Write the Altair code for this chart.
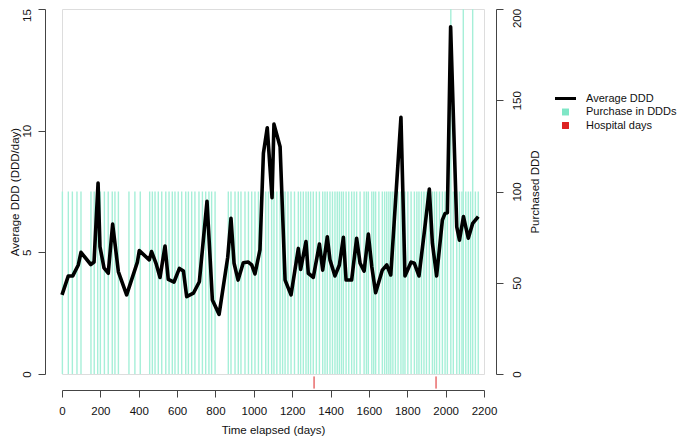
import altair as alt
import pandas as pd

# ---- data ----
line_days = [0, 33, 56, 85, 99, 150, 167, 188, 198, 219, 241, 264, 294, 337, 393, 403,
             455, 467, 490, 511, 537, 554, 584, 612, 633, 650, 685, 716, 756, 784, 819,
             864, 881, 897, 918, 945, 971, 989, 1006, 1032, 1050, 1070, 1095, 1105, 1137,
             1163, 1194, 1232, 1244, 1272, 1284, 1310, 1342, 1359, 1383, 1397, 1423, 1446,
             1467, 1481, 1510, 1536, 1554, 1575, 1597, 1615, 1635, 1670, 1693, 1714, 1767,
             1788, 1820, 1837, 1861, 1887, 1915, 1931, 1953, 1983, 1997, 2009, 2026, 2058,
             2072, 2093, 2118, 2141, 2170]
line_avg = [3.25, 4.03, 4.03, 4.48, 5.0, 4.5, 4.6, 7.85, 5.23, 4.36, 4.14, 6.16, 4.2, 3.25,
            4.6, 5.07, 4.69, 5.03, 4.55, 3.97, 5.26, 3.89, 3.78, 4.34, 4.23, 3.18, 3.32,
            3.79, 7.1, 3.04, 2.45, 4.8, 6.4, 4.55, 3.86, 4.57, 4.6, 4.48, 4.11, 5.1, 9.07,
            10.12, 7.25, 10.27, 9.34, 3.86, 3.25, 5.16, 4.3, 5.44, 4.14, 3.97, 5.34, 4.27,
            5.64, 4.69, 4.03, 4.48, 5.62, 3.86, 3.86, 5.58, 4.55, 4.23, 5.75, 4.41, 3.34,
            4.27, 4.48, 4.07, 10.55, 4.03, 4.6, 4.55, 4.03, 5.71, 7.6, 5.37, 4.03, 6.33,
            6.6, 6.63, 14.27, 6.05, 5.5, 6.47, 5.58, 6.19, 6.47]

purchase_days = [2, 33, 54, 78, 99, 151, 168, 186, 200, 221, 241, 262, 276, 294, 349, 380,
                 408, 457, 471, 485, 502, 520, 541, 558, 575, 589, 606, 624, 645, 659, 676,
                 693, 714, 732, 749, 766, 780, 798, 867, 881, 902, 919, 933, 954, 972, 989,
                 1006, 1024, 1041, 1062, 1076, 1093, 1105, 1120, 1137, 1150, 1163, 1178,
                 1194, 1212, 1232, 1244, 1258, 1272, 1284, 1296, 1310, 1326, 1342, 1359,
                 1371, 1383, 1397, 1410, 1423, 1435, 1446, 1457, 1467, 1481, 1495, 1510,
                 1523, 1536, 1554, 1575, 1587, 1597, 1615, 1625, 1635, 1652, 1670, 1682,
                 1693, 1704, 1714, 1725, 1738, 1752, 1767, 1778, 1788, 1803, 1820, 1837,
                 1850, 1861, 1874, 1887, 1900, 1915, 1931, 1942, 1953, 1968, 1983, 1997,
                 2009, 2027, 2040, 2058, 2072, 2085, 2092, 2105, 2118, 2130, 2141, 2155, 2170]
purchase_ddd = [100, 100, 100, 100, 100, 100, 100, 100, 100, 100,
                100, 100, 100, 100, 100, 100, 100, 100, 100, 100,
                100, 100, 100, 100, 100, 100, 100, 100, 100, 100,
                100, 100, 100, 100, 100, 100, 100, 100, 100, 100,
                100, 100, 100, 100, 100, 100, 100, 100, 100, 100,
                100, 100, 100, 100, 100, 100, 100, 100, 100, 100,
                100, 100, 100, 100, 100, 100, 100, 100, 100, 100,
                100, 100, 100, 100, 100, 100, 100, 100, 100, 100,
                100, 100, 100, 100, 100, 100, 100, 100, 100, 100,
                100, 100, 100, 100, 100, 100, 100, 100, 100, 100,
                100, 100, 100, 100, 100, 100, 100, 100, 100, 100,
                100, 100, 100, 100, 100, 100, 100, 100, 100, 200,
                100, 100, 100, 100, 200, 100, 100, 100, 200, 100, 100]

hospital_days = [1314, 1950]

legend_names = ["Average DDD", "Purchase in DDDs", "Hospital days"]
x_ticks = [0, 200, 400, 600, 800, 1000, 1200, 1400, 1600, 1800, 2000, 2200]
left_ticks = [0, 5, 10, 15]
right_ticks = [0, 50, 100, 150, 200]

# ---- styling ----
FONT = "Liberation Sans"
TEAL = "#a6efd8"
TEAL_LEG = "#7fe6c6"
RED = "#dd2222"
AXIS_COL = "#444444"
TXT = "#111111"
FS = 11.5

line_df = pd.DataFrame({"day": line_days, "avg": line_avg})
purch_df = pd.DataFrame({"day": purchase_days, "ddd": purchase_ddd})
hosp_df = pd.DataFrame({"day": hospital_days})
leg_df = pd.DataFrame({"series": legend_names})

common_axis = dict(grid=False, labelFont=FONT, titleFont=FONT, labelFontSize=FS,
                   titleFontSize=FS, titleFontWeight="normal", labelColor=TXT,
                   titleColor=TXT, domainColor=AXIS_COL, tickColor=AXIS_COL,
                   tickSize=7, labelOverlap=False, labelFlush=False)

xscale = alt.Scale(domain=[0, 2200], nice=False, zero=False)
xaxis = alt.Axis(values=x_ticks, title="Time elapsed (days)", offset=16, format="d",
                 labelPadding=8, titlePadding=8, **common_axis)
left_scale = alt.Scale(domain=[0, 15], nice=False)
right_scale = alt.Scale(domain=[0, 200], nice=False)
left_axis = alt.Axis(orient="left", values=left_ticks, title="Average DDD (DDD/day)",
                     offset=17, labelAngle=-90, labelAlign="center",
                     labelBaseline="bottom", labelPadding=6, titlePadding=1,
                     labelOffset={"condition": {"test": "datum.value == 15", "value": 6},
                                  "value": 0},
                     **common_axis)
right_axis = alt.Axis(orient="right", values=right_ticks, title="Purchased DDD",
                      offset=12, labelAngle=-90, labelAlign="center",
                      labelBaseline="top", labelPadding=8, titleAngle=-90,
                      titleBaseline="top", titlePadding=7,
                      labelOffset={"condition": {"test": "datum.value == 200", "value": 9},
                                   "value": 0},
                      **common_axis)

bars = alt.Chart(purch_df).mark_rule(color=TEAL, strokeWidth=1.4).encode(
    x=alt.X("day:Q", scale=xscale, axis=xaxis),
    y=alt.Y("ddd:Q", scale=right_scale, axis=right_axis),
    y2=alt.Y2(datum=0),
)

line = alt.Chart(line_df).mark_line(color="black", strokeWidth=3.6,
                                    strokeJoin="round").encode(
    x=alt.X("day:Q", scale=xscale, axis=xaxis),
    y=alt.Y("avg:Q", scale=left_scale, axis=left_axis),
)

hosp = alt.Chart(hosp_df).mark_rule(color=RED, strokeWidth=1).encode(
    x=alt.X("day:Q", scale=xscale, axis=xaxis),
    y=alt.Y(datum=-0.1, scale=left_scale, axis=left_axis),
    y2=alt.Y2(datum=-0.6),
)

leg = alt.Legend(orient="none", legendX=497, legendY=83, title=None,
                 symbolSize=144, symbolStrokeColor="#333333", symbolStrokeWidth=0.6,
                 symbolOpacity=1, labelFont=FONT, labelFontSize=11, labelColor=TXT,
                 labelOffset=14, rowPadding=1.5, padding=0)
legend_layer = alt.Chart(leg_df).mark_point(filled=True, opacity=0).encode(
    color=alt.Color("series:N", scale=alt.Scale(domain=legend_names,
                                                range=["black", TEAL_LEG, RED]),
                    legend=leg, sort=legend_names),
    shape=alt.Shape("series:N", scale=alt.Scale(
        domain=legend_names,
        range=["M-1.75,-0.25H1.75V0.25H-1.75Z", "M-0.58,-0.58H0.58V0.58H-0.58Z",
               "M-0.58,-0.58H0.58V0.58H-0.58Z"]),
        legend=leg, sort=legend_names),
)

left_group = alt.layer(line, hosp, legend_layer)

chart = alt.layer(bars, left_group).resolve_scale(y="independent").properties(
    width=422, height=365,
    autosize=alt.AutoSizeParams(type="none"),
    padding={"left": 54, "top": 1, "right": 193, "bottom": 62},
).configure_view(stroke=None).configure(background="white")

chart.save("out.html", embed_options={"renderer": "svg", "actions": False})
